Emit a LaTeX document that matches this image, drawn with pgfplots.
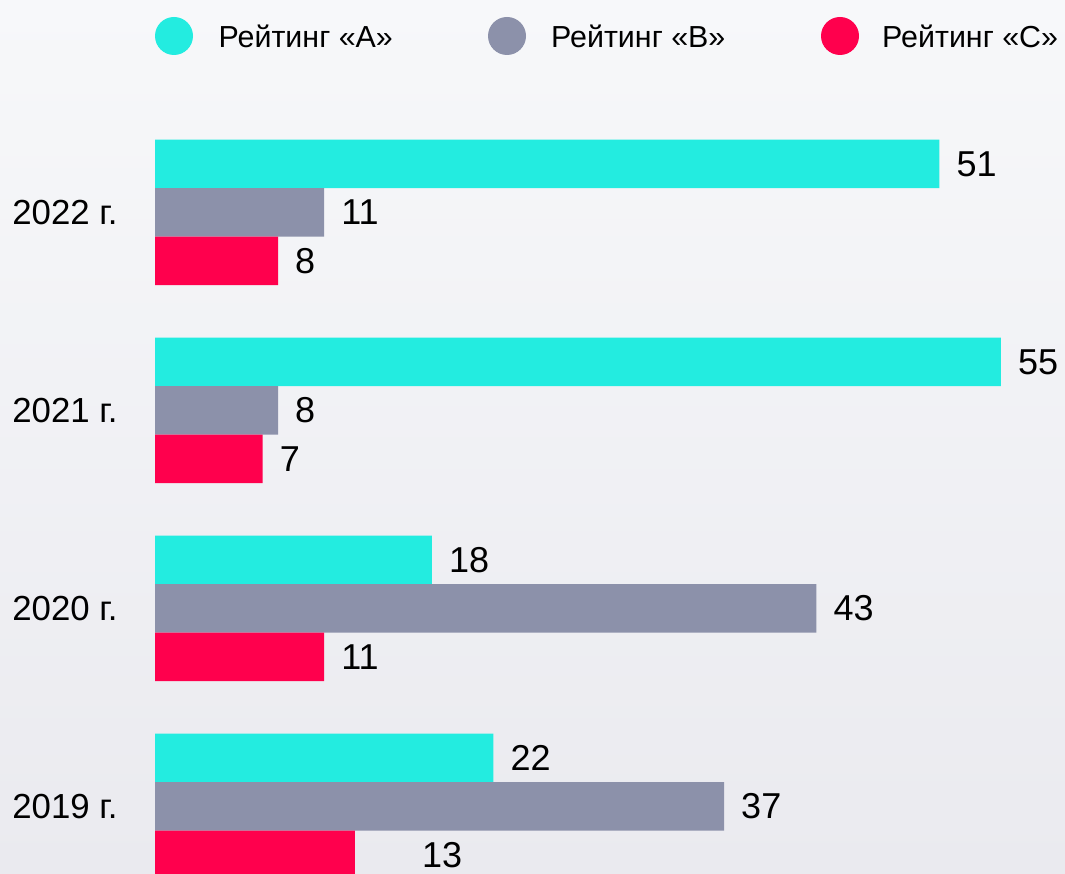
\documentclass[border=0pt]{standalone}
\usepackage{pgfplots}
\pgfplotsset{compat=1.18}
\usepackage{pgfplotstable}
\usepackage{fontspec}
\setmainfont{Liberation Sans}
\definecolor{cA}{RGB}{35,236,224}
\definecolor{cB}{RGB}{140,145,170}
\definecolor{cC}{RGB}{255,0,77}
\definecolor{bgtop}{RGB}{247,248,250}
\definecolor{bgbot}{RGB}{234,234,239}

\pgfplotstableread{
y x dx
0 22 0
1 18 0
2 55 0
3 51 0
}\tA
\pgfplotstableread{
y x dx
0 37 0
1 43 0
2 8 0
3 11 0
}\tB
\pgfplotstableread{
y x dx
0 13 50
1 11 0
2 7 0
3 8 0
}\tC

\begin{document}
\begin{tikzpicture}[x=1pt,y=1pt]
\useasboundingbox (0,0) rectangle (1065,874);
\shade[top color=bgtop,bottom color=bgbot] (0,0) rectangle (1065,874);
% legend
\fill[cA] (174,838) circle (19);
\node[anchor=west,inner sep=0pt,font=\fontsize{30.4}{30}\selectfont] at (218.5,838) {Рейтинг «A»};
\fill[cB] (507,838) circle (19);
\node[anchor=west,inner sep=0pt,font=\fontsize{30.4}{30}\selectfont] at (551,838) {Рейтинг «B»};
\fill[cC] (840,838) circle (19);
\node[anchor=west,inner sep=0pt,font=\fontsize{30.4}{30}\selectfont] at (882,838) {Рейтинг «C»};
\begin{axis}[
  at={(155pt,0pt)}, anchor=south west,
  scale only axis, width=910pt, height=774pt,
  xmin=0, xmax=59.17, ymin=-0.34091, ymax=3.56818,
  xbar, bar width=48.5pt,
  axis line style={draw=none}, tick style={draw=none},
  xtick=\empty, ytick={0,1,2,3},
  yticklabels={2019 г.,2020 г.,2021 г.,2022 г.},
  yticklabel style={anchor=east,inner sep=0pt,xshift=-33pt,font=\fontsize{34.8}{35}\selectfont},
  /pgf/number format/assume math mode=true,
  nodes near coords,
  visualization depends on={\thisrow{dx}\as\dx},
  every node near coord/.append style={anchor=west,inner sep=0pt,xshift=17pt+\dx pt,font=\fontsize{36}{36}\selectfont,text=black},
]
\addplot[fill=cA,draw=none,bar shift=48.5pt] table[x=x,y=y] {\tA};
\addplot[fill=cB,draw=none,bar shift=0pt] table[x=x,y=y] {\tB};
\addplot[fill=cC,draw=none,bar shift=-48.5pt] table[x=x,y=y] {\tC};
\end{axis}
\end{tikzpicture}
\end{document}
